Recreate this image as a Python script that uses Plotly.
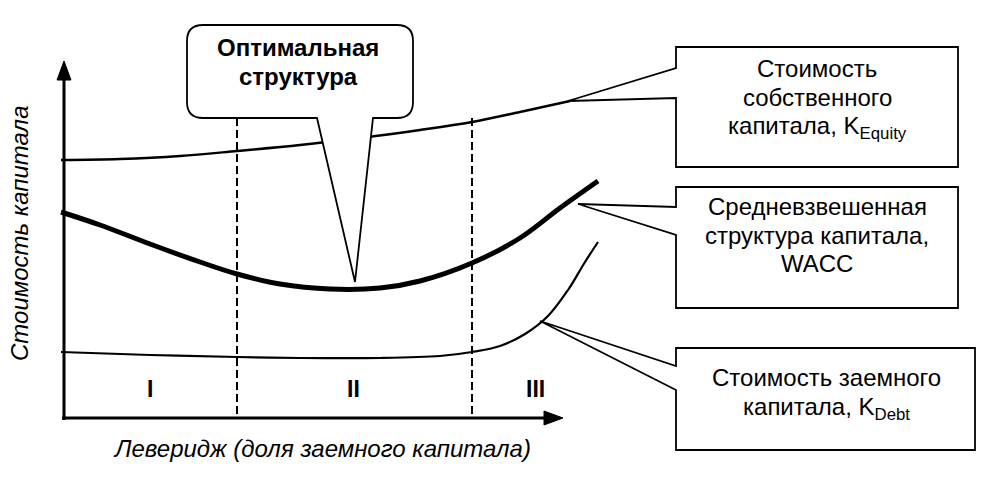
import plotly.graph_objects as go

# Curves (plot coordinates: x right, y down)
equity_x = [61, 120, 180, 237, 300, 360, 420, 472, 520, 570]
equity_y = [160, 159, 156, 151, 145, 138, 130, 122, 112, 101]

wacc_x = [61, 100, 150, 200, 237, 280, 330, 380, 420, 472, 520, 560, 598]
wacc_y = [212, 225, 244, 262, 274, 284, 289, 288, 281, 263, 238, 208, 181]

debt_x = [61, 150, 237, 300, 380, 440, 472, 500, 525, 548, 568, 585, 598]
debt_y = [352, 355, 357, 358, 358, 356, 352, 346, 334, 316, 290, 262, 242]

dash_x = [237, 472]
region_labels = ["I", "II", "III"]
region_x = [150, 353, 535]

FONT = "Liberation Sans, Arial, sans-serif"

fig = go.Figure()
fig.add_trace(go.Scatter(x=equity_x, y=equity_y, mode="lines",
                         line=dict(color="black", width=2.5, shape="spline")))
fig.add_trace(go.Scatter(x=wacc_x, y=wacc_y, mode="lines",
                         line=dict(color="black", width=5, shape="spline")))
fig.add_trace(go.Scatter(x=debt_x, y=debt_y, mode="lines",
                         line=dict(color="black", width=2.2, shape="spline")))

shapes = []
for dx in dash_x:
    shapes.append(dict(type="line", x0=dx, x1=dx, y0=118, y1=418,
                       line=dict(color="black", width=2, dash="8px,4px"), layer="below"))
# axes
shapes.append(dict(type="line", x0=64, x1=64, y0=420, y1=76, line=dict(color="black", width=3)))
shapes.append(dict(type="path", path="M 57,80 L 71,80 L 64,61 Z", fillcolor="black",
                   line=dict(color="black", width=1)))
shapes.append(dict(type="line", x0=62, x1=548, y0=418, y1=418, line=dict(color="black", width=3)))
shapes.append(dict(type="path", path="M 544,411 L 544,425 L 563,418 Z", fillcolor="black",
                   line=dict(color="black", width=1)))

# optimal structure callout
r = 16
L, R, T, B = 187, 413, 25, 118
p = (f"M {L+r},{T} L {R-r},{T} Q {R},{T} {R},{T+r} L {R},{B-r} Q {R},{B} {R-r},{B} "
     f"L 373,{B} L 355,282 L 317,{B} L {L+r},{B} Q {L},{B} {L},{B-r} L {L},{T+r} Q {L},{T} {L+r},{T} Z")
shapes.append(dict(type="path", path=p, fillcolor="white", line=dict(color="black", width=1.8)))

# right callouts
shapes.append(dict(type="path",
                   path="M 676,47 L 958,47 L 958,167 L 676,167 L 676,98 L 568,101 L 676,68 Z",
                   fillcolor="white", line=dict(color="black", width=1.8)))
shapes.append(dict(type="path",
                   path="M 676,187 L 958,187 L 958,308 L 676,308 L 676,235 L 578,204 L 676,207 Z",
                   fillcolor="white", line=dict(color="black", width=1.8)))
shapes.append(dict(type="path",
                   path="M 676,348 L 975,348 L 975,450 L 676,450 L 676,390 L 540,321 L 676,366 Z",
                   fillcolor="white", line=dict(color="black", width=1.8)))

ann = []
def txt(x, y, t, size=24, bold=False, italic=False, angle=0):
    ann.append(dict(x=x, y=y, text=(f"<b>{t}</b>" if bold else t), showarrow=False,
                    textangle=angle, xanchor="center", yanchor="middle",
                    font=dict(family=FONT, size=size, color="black",
                              style="italic" if italic else "normal")))

txt(298, 47, "Оптимальная", size=24, bold=True)
txt(298, 76, "структура", size=24, bold=True)
for lab, lx in zip(region_labels, region_x):
    txt(lx, 389, lab, size=23, bold=True)

txt(817, 68, "Стоимость")
txt(817, 97, "собственного")
txt(817, 127, "капитала, K<sub>Equity</sub>")
txt(817, 206, "Средневзвешенная")
txt(817, 235, "структура капитала,")
txt(817, 263, "WACC")
txt(826, 377, "Стоимость заемного")
txt(826, 408, "капитала, K<sub>Debt</sub>")

txt(322, 448, "Леверидж (доля заемного капитала)", size=24, italic=True)
txt(19, 234, "Стоимость капитала", size=24, italic=True, angle=-90)

fig.update_layout(
    width=992, height=478, margin=dict(l=0, r=0, t=0, b=0),
    paper_bgcolor="white", plot_bgcolor="white", showlegend=False,
    xaxis=dict(range=[0, 992], visible=False, fixedrange=True),
    yaxis=dict(range=[478, 0], visible=False, fixedrange=True),
    shapes=shapes, annotations=ann,
)
fig.write_html("out.html", config={"displayModeBar": False},
               post_script="document.body.style.margin='0';document.body.style.overflow='hidden';")
